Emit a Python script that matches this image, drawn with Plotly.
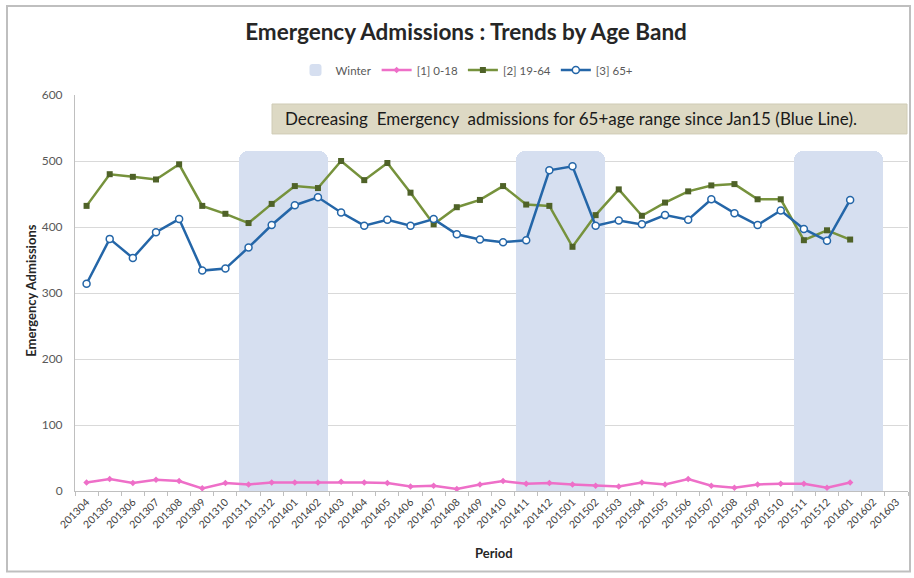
import plotly.graph_objects as go

periods = ["201304", "201305", "201306", "201307", "201308", "201309", "201310", "201311", "201312",
           "201401", "201402", "201403", "201404", "201405", "201406", "201407", "201408", "201409",
           "201410", "201411", "201412", "201501", "201502", "201503", "201504", "201505", "201506",
           "201507", "201508", "201509", "201510", "201511", "201512", "201601", "201602", "201603"]

age_0_18 = [13, 18, 12, 17, 15, 4, 12, 10, 13, 13, 13, 14, 13, 12, 7, 8, 3, 10,
            15, 11, 12, 10, 8, 7, 13, 10, 18, 8, 5, 10, 11, 11, 5, 13]
age_19_64 = [432, 480, 476, 472, 495, 432, 420, 406, 435, 462, 459, 500, 471, 497, 452, 404, 430, 441,
             462, 434, 432, 370, 418, 457, 417, 437, 454, 463, 465, 442, 442, 380, 395, 381]
age_65p = [314, 382, 353, 392, 412, 334, 337, 369, 403, 433, 445, 422, 402, 411, 402, 412, 389, 381,
           377, 380, 486, 492, 402, 410, 404, 418, 411, 442, 421, 403, 425, 397, 379, 441]

winter_start = ["201311", "201411", "201511"]
winter_months = 4
winter_value = 515

labelled_periods = ["201501", "201601"]

note_text = "Decreasing  Emergency  admissions for 65+age range since Jan15 (Blue Line)."

GREEN = "#76923C"
BLUE = "#2466A8"
PINK = "#EE6FC8"
WINTER = "#D6DFF0"
FONT = "Lato"

fig = go.Figure()

w_x, w_y = [], []
for s in winter_start:
    i = periods.index(s)
    w_x.append(periods[i + 1])
    w_y.append(winter_value)
fig.add_trace(go.Bar(
    x=w_x, y=w_y, name="Winter",
    width=[winter_months - 0.16] * len(w_x),
    offset=[-1.42] * len(w_x),
    marker=dict(color=WINTER, line=dict(width=0), cornerradius=9),
    hoverinfo="skip",
))

fig.add_trace(go.Scatter(
    x=periods[:len(age_0_18)], y=age_0_18, name="[1] 0-18", mode="lines+markers",
    line=dict(color=PINK, width=2.5),
    marker=dict(symbol="diamond", size=5, color=PINK),
))
fig.add_trace(go.Scatter(
    x=periods[:len(age_19_64)], y=age_19_64, name="[2] 19-64", mode="lines+markers",
    line=dict(color=GREEN, width=2.5),
    marker=dict(symbol="square", size=6, color="#4F6228"),
))
fig.add_trace(go.Scatter(
    x=periods[:len(age_65p)], y=age_65p, name="[3] 65+", mode="lines+markers",
    line=dict(color=BLUE, width=2.5),
    marker=dict(symbol="circle", size=7, color="white", line=dict(color=BLUE, width=1.5)),
))

annotations = []
for p in labelled_periods:
    i = periods.index(p)
    annotations.append(dict(
        x=p, y=age_65p[i], xref="x", yref="y", text=str(age_65p[i]),
        showarrow=False, xanchor="left", yanchor="middle", xshift=7,
        bgcolor="#B4C4DD", borderpad=3,
        font=dict(family=FONT, size=11, color="#404040"),
    ))

L, R, T, B = 75, 6, 95, 86.5
W, H = 914, 578
pw = W - L - R
ph = H - T - B


def px_x(px):
    return (px - L) / pw


def px_y(py):
    return (H - B - py) / ph


annotations.append(dict(
    x=px_x(283), y=px_y(119), xref="paper", yref="paper",
    text=note_text,
    showarrow=False, xanchor="left", yanchor="middle", align="left",
    font=dict(family=FONT, size=17, color="#1a1a1a"),
))
annotations.append(dict(
    x=px_x(31), y=px_y(291), xref="paper", yref="paper", text="<b>Emergency Admissions</b>",
    textangle=-90, showarrow=False, xanchor="center", yanchor="middle",
    font=dict(family=FONT, size=13, color="#262626"),
))
annotations.append(dict(
    x=px_x(494), y=px_y(554), xref="paper", yref="paper", text="<b>Period</b>",
    showarrow=False, xanchor="center", yanchor="middle",
    font=dict(family=FONT, size=13, color="#262626"),
))

shapes = [
    dict(type="rect", xref="paper", yref="paper",
         x0=px_x(7), x1=px_x(910), y0=px_y(572), y1=px_y(6),
         line=dict(color="#BFBFBF", width=2), fillcolor="rgba(0,0,0,0)", layer="below"),
    dict(type="rect", xref="paper", yref="paper",
         x0=px_x(272), x1=px_x(907), y0=px_y(134), y1=px_y(104),
         line=dict(color="#D0CCB6", width=1), fillcolor="#DDD9C4", layer="above"),
]

fig.update_layout(
    width=W, height=H,
    margin=dict(l=L, r=R, t=T, b=B, pad=0),
    paper_bgcolor="white", plot_bgcolor="white",
    font=dict(family=FONT, size=11, color="#595959"),
    title=dict(text="<b>Emergency Admissions : Trends by Age Band</b>",
               x=466 / W, y=1 - 32 / H, xref="container", yref="container",
               xanchor="center", yanchor="middle",
               font=dict(family=FONT, size=22.5, color="#262626")),
    legend=dict(orientation="h", x=px_x(467), y=px_y(70), xanchor="center", yanchor="middle",
                font=dict(family=FONT, size=11.5, color="#595959"), bgcolor="rgba(0,0,0,0)",
                tracegroupgap=0),
    showlegend=True,
    bargap=0,
    xaxis=dict(type="category", categoryorder="array", categoryarray=periods,
               range=[-0.5, len(periods) - 0.5],
               tickangle=-45, tickfont=dict(family=FONT, size=10.5, color="#404040"),
               showline=True, linecolor="#BFBFBF", linewidth=1,
               ticks="outside", ticklen=4, tickcolor="#BFBFBF", tickson="boundaries",
               showgrid=False, zeroline=False),
    yaxis=dict(range=[0, 600], dtick=100, showgrid=True, gridcolor="#D9D9D9", gridwidth=1,
               showline=True, linecolor="#BFBFBF", linewidth=1,
               ticks="", ticklabelstandoff=9,
               tickfont=dict(family=FONT, size=12, color="#595959"),
               zeroline=False),
    annotations=annotations,
    shapes=shapes,
)

fig.write_html("out.html")
